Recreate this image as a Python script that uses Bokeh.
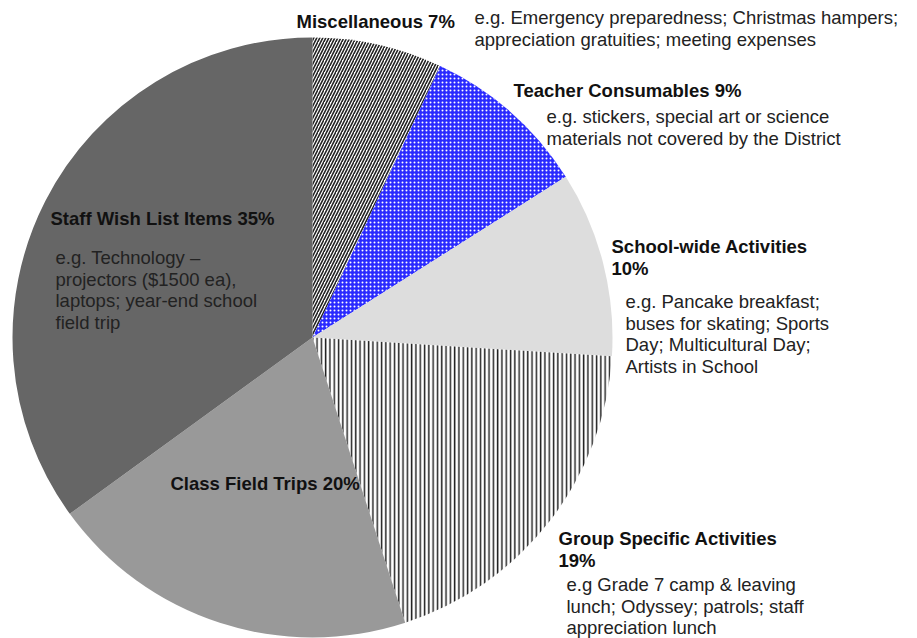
import math
from bokeh.plotting import figure
from bokeh.core.properties import value
from bokeh.embed import file_html
from bokeh.resources import INLINE

categories = ["Miscellaneous", "Teacher Consumables", "School-wide Activities",
              "Group Specific Activities", "Class Field Trips", "Staff Wish List Items"]
percents = [7, 9, 10, 19, 20, 35]

title_lines = [
    ["Miscellaneous 7%"],
    ["Teacher Consumables 9%"],
    ["School-wide Activities", "10%"],
    ["Group Specific Activities", "19%"],
    ["Class Field Trips 20%"],
    ["Staff Wish List Items 35%"],
]
desc_lines = [
    ["e.g. Emergency preparedness; Christmas hampers;", "appreciation gratuities; meeting expenses"],
    ["e.g. stickers, special art or science", "materials not covered by the District"],
    ["e.g. Pancake breakfast;", "buses for skating; Sports", "Day; Multicultural Day;", "Artists in School"],
    ["e.g Grade 7 camp & leaving", "lunch; Odyssey; patrols; staff", "appreciation lunch"],
    [],
    ["e.g. Technology \u2013", "projectors ($1500 ea),", "laptops; year-end school", "field trip"],
]

# styling
W, H = 917, 638
CX, CY, R = 312, 337, 300
fills = ["white", "#2a2aff", "#dddddd", "white", "#999999", "#666666"]
hatches = ["/", ".", " ", "|", " ", " "]
hatch_colors = ["#222222", "white", None, "#222222", None, None]
hatch_scales = [6, 4, 12, 4.3, 12, 12]
hatch_weights = [1.6, 1.2, 1, 1.5, 1, 1]
title_pos = [(296, 21), (513, 90), (611, 246), (558, 538), (170, 483), (50, 218)]
desc_pos = [(474, 17), (546, 116), (625, 301), (566, 584), (0, 0), (55, 257)]
title_step = 22
desc_step = 21.5

def py(y):
    return H - y

p = figure(width=W, height=H, x_range=(0, W), y_range=(0, H),
           output_backend="svg", toolbar_location=None, min_border=0)
p.axis.visible = False
p.grid.visible = False
p.outline_line_color = None
p.background_fill_color = "white"
p.border_fill_color = "white"

total = sum(percents)
cum = 0
for i, pc in enumerate(percents):
    start = math.pi / 2 - 2 * math.pi * cum / total
    cum += pc
    end = math.pi / 2 - 2 * math.pi * cum / total
    kw = dict(x=CX, y=py(CY), radius=R, start_angle=start, end_angle=end,
              direction="clock", fill_color=fills[i], line_color=None)
    if hatches[i] != " ":
        kw.update(hatch_pattern=hatches[i], hatch_color=hatch_colors[i],
                  hatch_scale=hatch_scales[i], hatch_weight=hatch_weights[i])
    p.wedge(**kw)

for i in range(len(categories)):
    tx, ty = title_pos[i]
    for j, line in enumerate(title_lines[i]):
        p.text(x=[tx], y=[py(ty + j * title_step)], text=[line],
               text_font=value("Liberation Sans"), text_font_style="bold",
               text_font_size="18.5px", text_baseline="middle", text_align="left",
               text_color="#111111")
    dx, dy = desc_pos[i]
    for j, line in enumerate(desc_lines[i]):
        p.text(x=[dx], y=[py(dy + j * desc_step)], text=[line],
               text_font=value("Liberation Sans"),
               text_font_size="18.5px", text_baseline="middle", text_align="left",
               text_color="#222222")

open("out.html", "w").write(file_html(p, INLINE))
